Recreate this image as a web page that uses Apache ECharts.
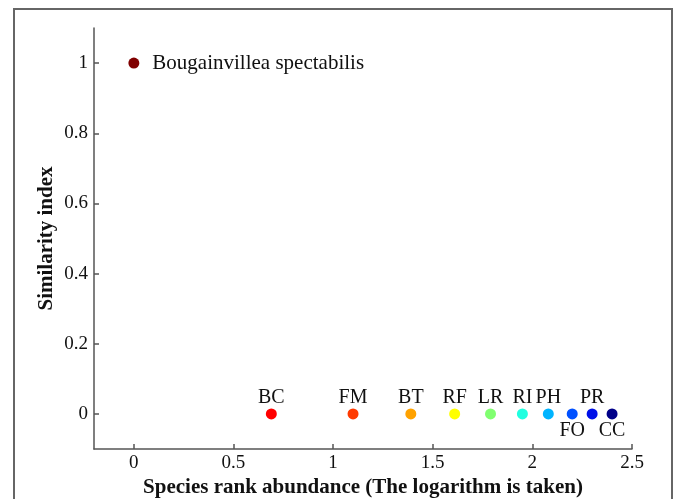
<!DOCTYPE html>
<html>
<head>
<meta charset="utf-8">
<script src="https://cdn.jsdelivr.net/npm/echarts@6/dist/echarts.min.js"></script>
<style>
  html, body { margin: 0; padding: 0; background: #fff; }
  #chart { width: 674px; height: 499px; }
</style>
</head>
<body>
<div id="chart"></div>
<script>
// species codes, x = log rank abundance, y = similarity index
const names = ['Bougainvillea spectabilis', 'BC', 'FM', 'BT', 'RF', 'LR', 'RI', 'PH', 'FO', 'PR', 'CC']
const xs = [0, 0.69, 1.10, 1.39, 1.61, 1.79, 1.95, 2.08, 2.20, 2.30, 2.40]
const ys = [1, 0, 0, 0, 0, 0, 0, 0, 0, 0, 0]
const colors = ['#800000', '#ff0000', '#ff3a00', '#ffa200', '#ffff00', '#80ff70', '#20ffe0', '#00b4ff', '#0050ff', '#0010e8', '#000088']
const labelPos = ['right', 'top', 'top', 'top', 'top', 'top', 'top', 'top', 'bottom', 'top', 'bottom']

const xTicks = [0, 0.5, 1, 1.5, 2, 2.5]
const yTicks = [0, 0.2, 0.4, 0.6, 0.8, 1]

const font = 'Liberation Serif'
const axisColor = '#555'

const points = names.map((n, i) => ({
  name: n,
  value: [xs[i], ys[i]],
  itemStyle: { color: colors[i], opacity: 1 },
  label: {
    show: true,
    position: labelPos[i],
    distance: labelPos[i] === 'right' ? 13 : 1,
    formatter: '{b}',
    fontFamily: font,
    fontSize: labelPos[i] === 'right' ? 21 : 20,
    color: '#111'
  }
}))

let chart = echarts.init(document.getElementById('chart'))
chart.setOption({
  animation: false,
  backgroundColor: '#fff',
  graphic: [
    {
      type: 'rect',
      shape: { x: 14, y: 9, width: 658, height: 520 },
      style: { fill: 'none', stroke: '#666', lineWidth: 2 },
      silent: true
    }
  ],
  grid: { left: 94, right: 42, top: 28, bottom: 50, outerBoundsMode: 'none' },
  xAxis: {
    type: 'value',
    min: -0.2,
    max: 2.5,
    name: 'Species rank abundance (The logarithm is taken)',
    nameLocation: 'middle',
    nameGap: 28,
    nameMoveOverlap: false,
    nameTextStyle: { fontFamily: font, fontSize: 21, fontWeight: 'bold', color: '#111' },
    splitLine: { show: false },
    axisLine: { show: true, onZero: false, lineStyle: { color: axisColor, width: 1.5 } },
    axisTick: { show: true, inside: true, length: 5, lineStyle: { color: axisColor, width: 1.5 }, customValues: xTicks },
    axisLabel: {
      fontFamily: font, fontSize: 19, color: '#111', margin: 5,
      customValues: xTicks,
      formatter: v => String(v)
    }
  },
  yAxis: {
    type: 'value',
    min: -0.1,
    max: 1.1,
    name: 'Similarity index',
    nameLocation: 'middle',
    nameGap: 37,
    nameMoveOverlap: false,
    nameTextStyle: { fontFamily: font, fontSize: 21, fontWeight: 'bold', color: '#111' },
    splitLine: { show: false },
    axisLine: { show: true, onZero: false, lineStyle: { color: axisColor, width: 1.5 } },
    axisTick: { show: true, inside: true, length: 5, lineStyle: { color: axisColor, width: 1.5 }, customValues: yTicks },
    axisLabel: {
      fontFamily: font, fontSize: 19, color: '#111', margin: 6,
      customValues: yTicks,
      formatter: v => String(v)
    }
  },
  series: [
    {
      type: 'scatter',
      symbol: 'circle',
      symbolSize: 11,
      itemStyle: { opacity: 1 },
      data: points
    }
  ]
})
</script>
</body>
</html>
